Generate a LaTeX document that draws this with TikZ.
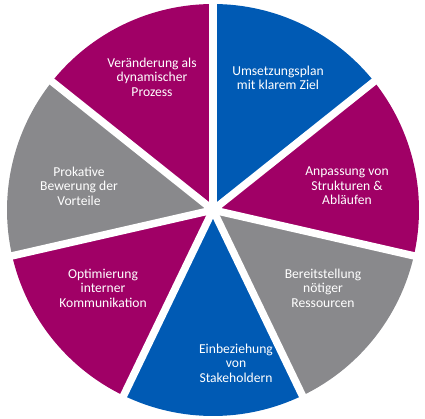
\documentclass[tikz,border=0pt]{standalone}
\usepackage{fontspec}
\setmainfont{Carlito}
\definecolor{pblue}{RGB}{0,90,180}
\definecolor{pmag}{RGB}{160,0,102}
\definecolor{pgray}{RGB}{137,137,140}
\begin{document}
\begin{tikzpicture}[x=1pt,y=-1pt,
  lbl/.style={text=white,align=center,font=\fontsize{13.6}{14.5}\selectfont,inner sep=0pt},
  gap/.style={white,line width=7.5pt}]
\useasboundingbox (0,0) rectangle (425,418);
\coordinate (c) at (213,210);
\def\R{206}
% sectors (angles measured with y down: negative of math angle)
\foreach \a/\col in {90/pblue,38.571/pmag,-12.857/pgray,-64.286/pblue,-115.714/pmag,-167.143/pgray,-218.571/pmag}{
  \fill[\col] (c) -- ++({\R*cos(\a)},{-\R*sin(\a)}) arc[start angle={-\a},end angle={-\a+51.4286},radius=\R] -- cycle;
}
\foreach \a in {90,38.571,-12.857,-64.286,-115.714,-167.143,-218.571}{
  \draw[gap] (c) -- ++({(\R+3)*cos(\a)},{-(\R+3)*sin(\a)});
}
\node[lbl] (l1) at (278,78) {Umsetzungsplan\\mit klarem Ziel};
\node[lbl] (l2) at (347,186) {Anpassung von\\Strukturen \&\\Abläufen};
\node[lbl] (l3) at (323,288) {Bereitstellung\\nötiger\\Ressourcen};
\node[lbl] (l4) at (236,363) {Einbeziehung\\von\\Stakeholdern};
\node[lbl] (l5) at (103,288) {Optimierung\\interner\\Kommunikation};
\node[lbl] (l6) at (79,186) {Prokative\\Bewerung der\\Vorteile};
\node[lbl] (l7) at (152,77) {Veränderung als\\dynamischer\\Prozess};
\end{tikzpicture}
\end{document}
